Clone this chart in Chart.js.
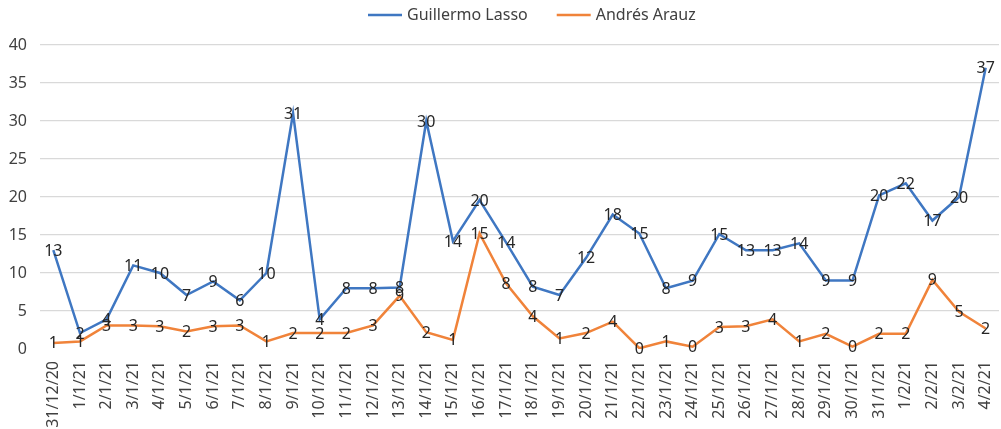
<!DOCTYPE html>
<html>
<head>
<meta charset="utf-8">
<script src="https://cdn.jsdelivr.net/npm/chart.js@4.4.1/dist/chart.umd.min.js"></script>
<style>
  html, body { margin: 0; padding: 0; background: #ffffff; }
  #wrap { width: 1001px; height: 429px; }
</style>
</head>
<body>
<div id="wrap"><canvas id="chart"></canvas></div>
<script>
// Categories (dates)
const dates = ['31/12/20', '1/1/21', '2/1/21', '3/1/21', '4/1/21', '5/1/21', '6/1/21', '7/1/21',
    '8/1/21', '9/1/21', '10/1/21', '11/1/21', '12/1/21', '13/1/21', '14/1/21', '15/1/21',
    '16/1/21', '17/1/21', '18/1/21', '19/1/21', '20/1/21', '21/1/21', '22/1/21', '23/1/21',
    '24/1/21', '25/1/21', '26/1/21', '27/1/21', '28/1/21', '29/1/21', '30/1/21', '31/1/21',
    '1/2/21', '2/2/21', '3/2/21', '4/2/21'];

// Series values as plotted
const lassoValues = [13, 2.1, 3.9, 11, 10, 7.1, 8.9, 6.4, 10, 31, 3.9, 8, 8, 8.1, 30, 14.2,
    19.6, 14, 8.2, 7.1, 12, 17.7, 15.2, 8, 9, 15.1, 13, 13, 13.9, 9, 9, 20.2,
    21.8, 16.9, 20, 37];
const arauzValues = [0.8, 1, 3.1, 3.1, 3, 2.3, 3, 3.1, 1, 2.1, 2.1, 2.1, 3.1, 7, 2.2, 1.2,
    15.2, 8.6, 4.3, 1.4, 2.1, 3.6, 0.1, 1, 0.3, 2.9, 3, 3.9, 1, 2, 0.3, 2,
    2, 9.1, 4.9, 2.7];

// Data labels as printed on the chart
const lassoLabels = [13, 2, 4, 11, 10, 7, 9, 6, 10, 31, 4, 8, 8, 8, 30, 14, 20, 14, 8, 7, 12, 18,
    15, 8, 9, 15, 13, 13, 14, 9, 9, 20, 22, 17, 20, 37];
const arauzLabels = [1, 1, 3, 3, 3, 2, 3, 3, 1, 2, 2, 2, 3, 9, 2, 1, 15, 8, 4, 1, 2, 4,
    0, 1, 0, 3, 3, 4, 1, 2, 0, 2, 2, 9, 5, 2];

// Y axis ticks
const yTicks = [0, 5, 10, 15, 20, 25, 30, 35, 40];

const FONT = "'Noto Sans', 'DejaVu Sans', sans-serif";
const TEXT = '#404040';
const BLUE = '#3f77c2';
const ORANGE = '#f0833a';

// Draw the value labels on each point
const pointLabels = {
    id: 'pointLabels',
    afterDatasetsDraw(chart) {
        const ctx = chart.ctx;
        ctx.save();
        ctx.font = '16px ' + FONT;
        ctx.fillStyle = '#262626';
        ctx.textAlign = 'center';
        ctx.textBaseline = 'middle';
        chart.data.datasets.forEach((ds, i) => {
            const meta = chart.getDatasetMeta(i);
            meta.data.forEach((pt, j) => {
                ctx.fillText(String(ds.valueLabels[j]), pt.x, pt.y + 1);
            });
        });
        ctx.restore();
    }
};

// Legend at the top, line sample + name for each series
const topLegend = {
    id: 'topLegend',
    afterDraw(chart) {
        const ctx = chart.ctx;
        ctx.save();
        ctx.font = '16px ' + FONT;
        ctx.textBaseline = 'middle';
        ctx.textAlign = 'left';
        let x = 368;
        const y = 15;
        chart.data.datasets.forEach(ds => {
            ctx.strokeStyle = ds.borderColor;
            ctx.lineWidth = 2.5;
            ctx.beginPath();
            ctx.moveTo(x, y);
            ctx.lineTo(x + 34, y);
            ctx.stroke();
            ctx.fillStyle = TEXT;
            ctx.fillText(ds.label, x + 39, y);
            x += 39 + ctx.measureText(ds.label).width + 29;
        });
        ctx.restore();
    }
};

new Chart(document.getElementById('chart'), {
    type: 'line',
    data: {
        labels: dates,
        datasets: [{
            label: 'Guillermo Lasso',
            data: lassoValues,
            valueLabels: lassoLabels,
            borderColor: BLUE,
            backgroundColor: BLUE,
            borderWidth: 2.5,
            pointRadius: 0,
            tension: 0
        }, {
            label: 'Andrés Arauz',
            data: arauzValues,
            valueLabels: arauzLabels,
            borderColor: ORANGE,
            backgroundColor: ORANGE,
            borderWidth: 2.5,
            pointRadius: 0,
            tension: 0
        }]
    },
    options: {
        responsive: true,
        maintainAspectRatio: false,
        animation: false,
        layout: {
            padding: { top: 45, right: 2, left: 0, bottom: 0 }
        },
        plugins: {
            legend: { display: false },
            tooltip: { enabled: false }
        },
        scales: {
            x: {
                offset: true,
                grid: { display: false },
                border: { display: false },
                ticks: {
                    autoSkip: false,
                    minRotation: 90,
                    maxRotation: 90,
                    padding: 4,
                    color: TEXT,
                    font: { family: FONT, size: 16 }
                },
                afterFit(scale) {
                    scale.height = 80;
                    scale.paddingLeft = 0;
                    scale.paddingRight = 0;
                }
            },
            y: {
                min: 0,
                max: 40,
                afterBuildTicks(scale) {
                    scale.ticks = yTicks.map(v => ({ value: v }));
                },
                grid: {
                    color: ctx => ctx.tick && ctx.tick.value === 0 ? 'rgba(0,0,0,0)' : '#d9d9d9',
                    lineWidth: 1.2,
                    drawTicks: false
                },
                border: { display: false },
                ticks: {
                    padding: 13,
                    color: TEXT,
                    font: { family: FONT, size: 16 }
                },
                afterFit(scale) {
                    scale.width = 40;
                    scale.paddingTop = 0;
                    scale.paddingBottom = 0;
                }
            }
        }
    },
    plugins: [pointLabels, topLegend]
});
</script>
</body>
</html>
